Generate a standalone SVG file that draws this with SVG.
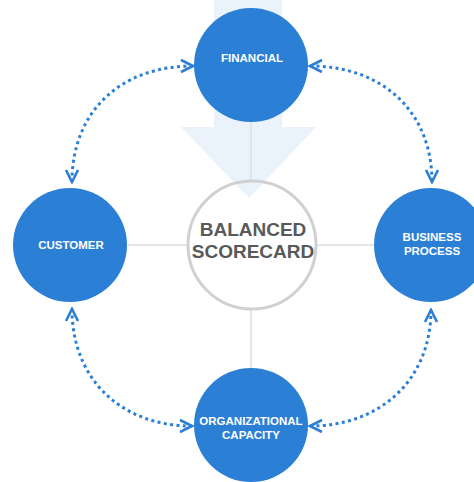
<svg xmlns="http://www.w3.org/2000/svg" width="474" height="482" viewBox="0 0 474 482">
<style>
.node{fill:#2b7fd5}
.lbl{font-family:"Liberation Sans",Arial,sans-serif;font-weight:bold;font-size:11.5px;fill:#ffffff;text-anchor:middle}
.ctr{font-family:"Liberation Sans",Arial,sans-serif;font-weight:bold;font-size:19px;fill:#595959;text-anchor:middle}
.cross{stroke:#dedede;stroke-width:1.5}
.dot{fill:none;stroke:#2b7fd5;stroke-width:3;stroke-dasharray:3 3.4;marker-start:url(#chev);marker-end:url(#chev)}
</style>
<defs>
<marker id="chev" markerUnits="userSpaceOnUse" viewBox="-16 -9 18 18" markerWidth="18" markerHeight="18" refX="0" refY="0" orient="auto-start-reverse">
<path d="M -12 -6 L 0 0 L -12 6" fill="none" stroke="#2b7fd5" stroke-width="2.6"/>
</marker>
</defs>
<rect width="474" height="482" fill="#ffffff"/>
<g id="background-arrow">
<polygon points="214,0 282,0 282,127 316,127 249,198 181,127 214,127" fill="#eaf2fb"/>
</g>
<g id="connectors">
<line class="cross" x1="128" y1="245" x2="188" y2="245"/>
<line class="cross" x1="316" y1="245" x2="374" y2="245"/>
<line class="cross" x1="251" y1="122" x2="251" y2="181"/>
<line class="cross" x1="251" y1="309" x2="251" y2="368"/>
<path class="dot" d="M 72 182 C 72 112 120 66 193 66"/>
<path class="dot" d="M 310 66 C 383 66 432 112 432 182"/>
<path class="dot" d="M 72 309 C 72 379 121 426 192 426"/>
<path class="dot" d="M 310 426 C 381 426 431 379 431 310"/>
</g>
<g id="center">
<circle cx="252" cy="245" r="64" fill="none" stroke="#d0d0d0" stroke-width="3"/>
<text class="ctr" x="253" y="236">BALANCED</text>
<text class="ctr" x="253" y="258">SCORECARD</text>
</g>
<g id="financial">
<circle class="node" cx="251" cy="65" r="57"/>
<text class="lbl" x="252" y="62">FINANCIAL</text>
</g>
<g id="customer">
<circle class="node" cx="70" cy="245" r="57"/>
<text class="lbl" x="71" y="249">CUSTOMER</text>
</g>
<g id="business-process">
<circle class="node" cx="431" cy="245" r="57"/>
<text class="lbl" x="432" y="241">BUSINESS</text>
<text class="lbl" x="432" y="255">PROCESS</text>
</g>
<g id="organizational-capacity">
<circle class="node" cx="251" cy="425" r="57"/>
<text class="lbl" x="251" y="425">ORGANIZATIONAL</text>
<text class="lbl" x="251" y="439">CAPACITY</text>
</g>
</svg>
